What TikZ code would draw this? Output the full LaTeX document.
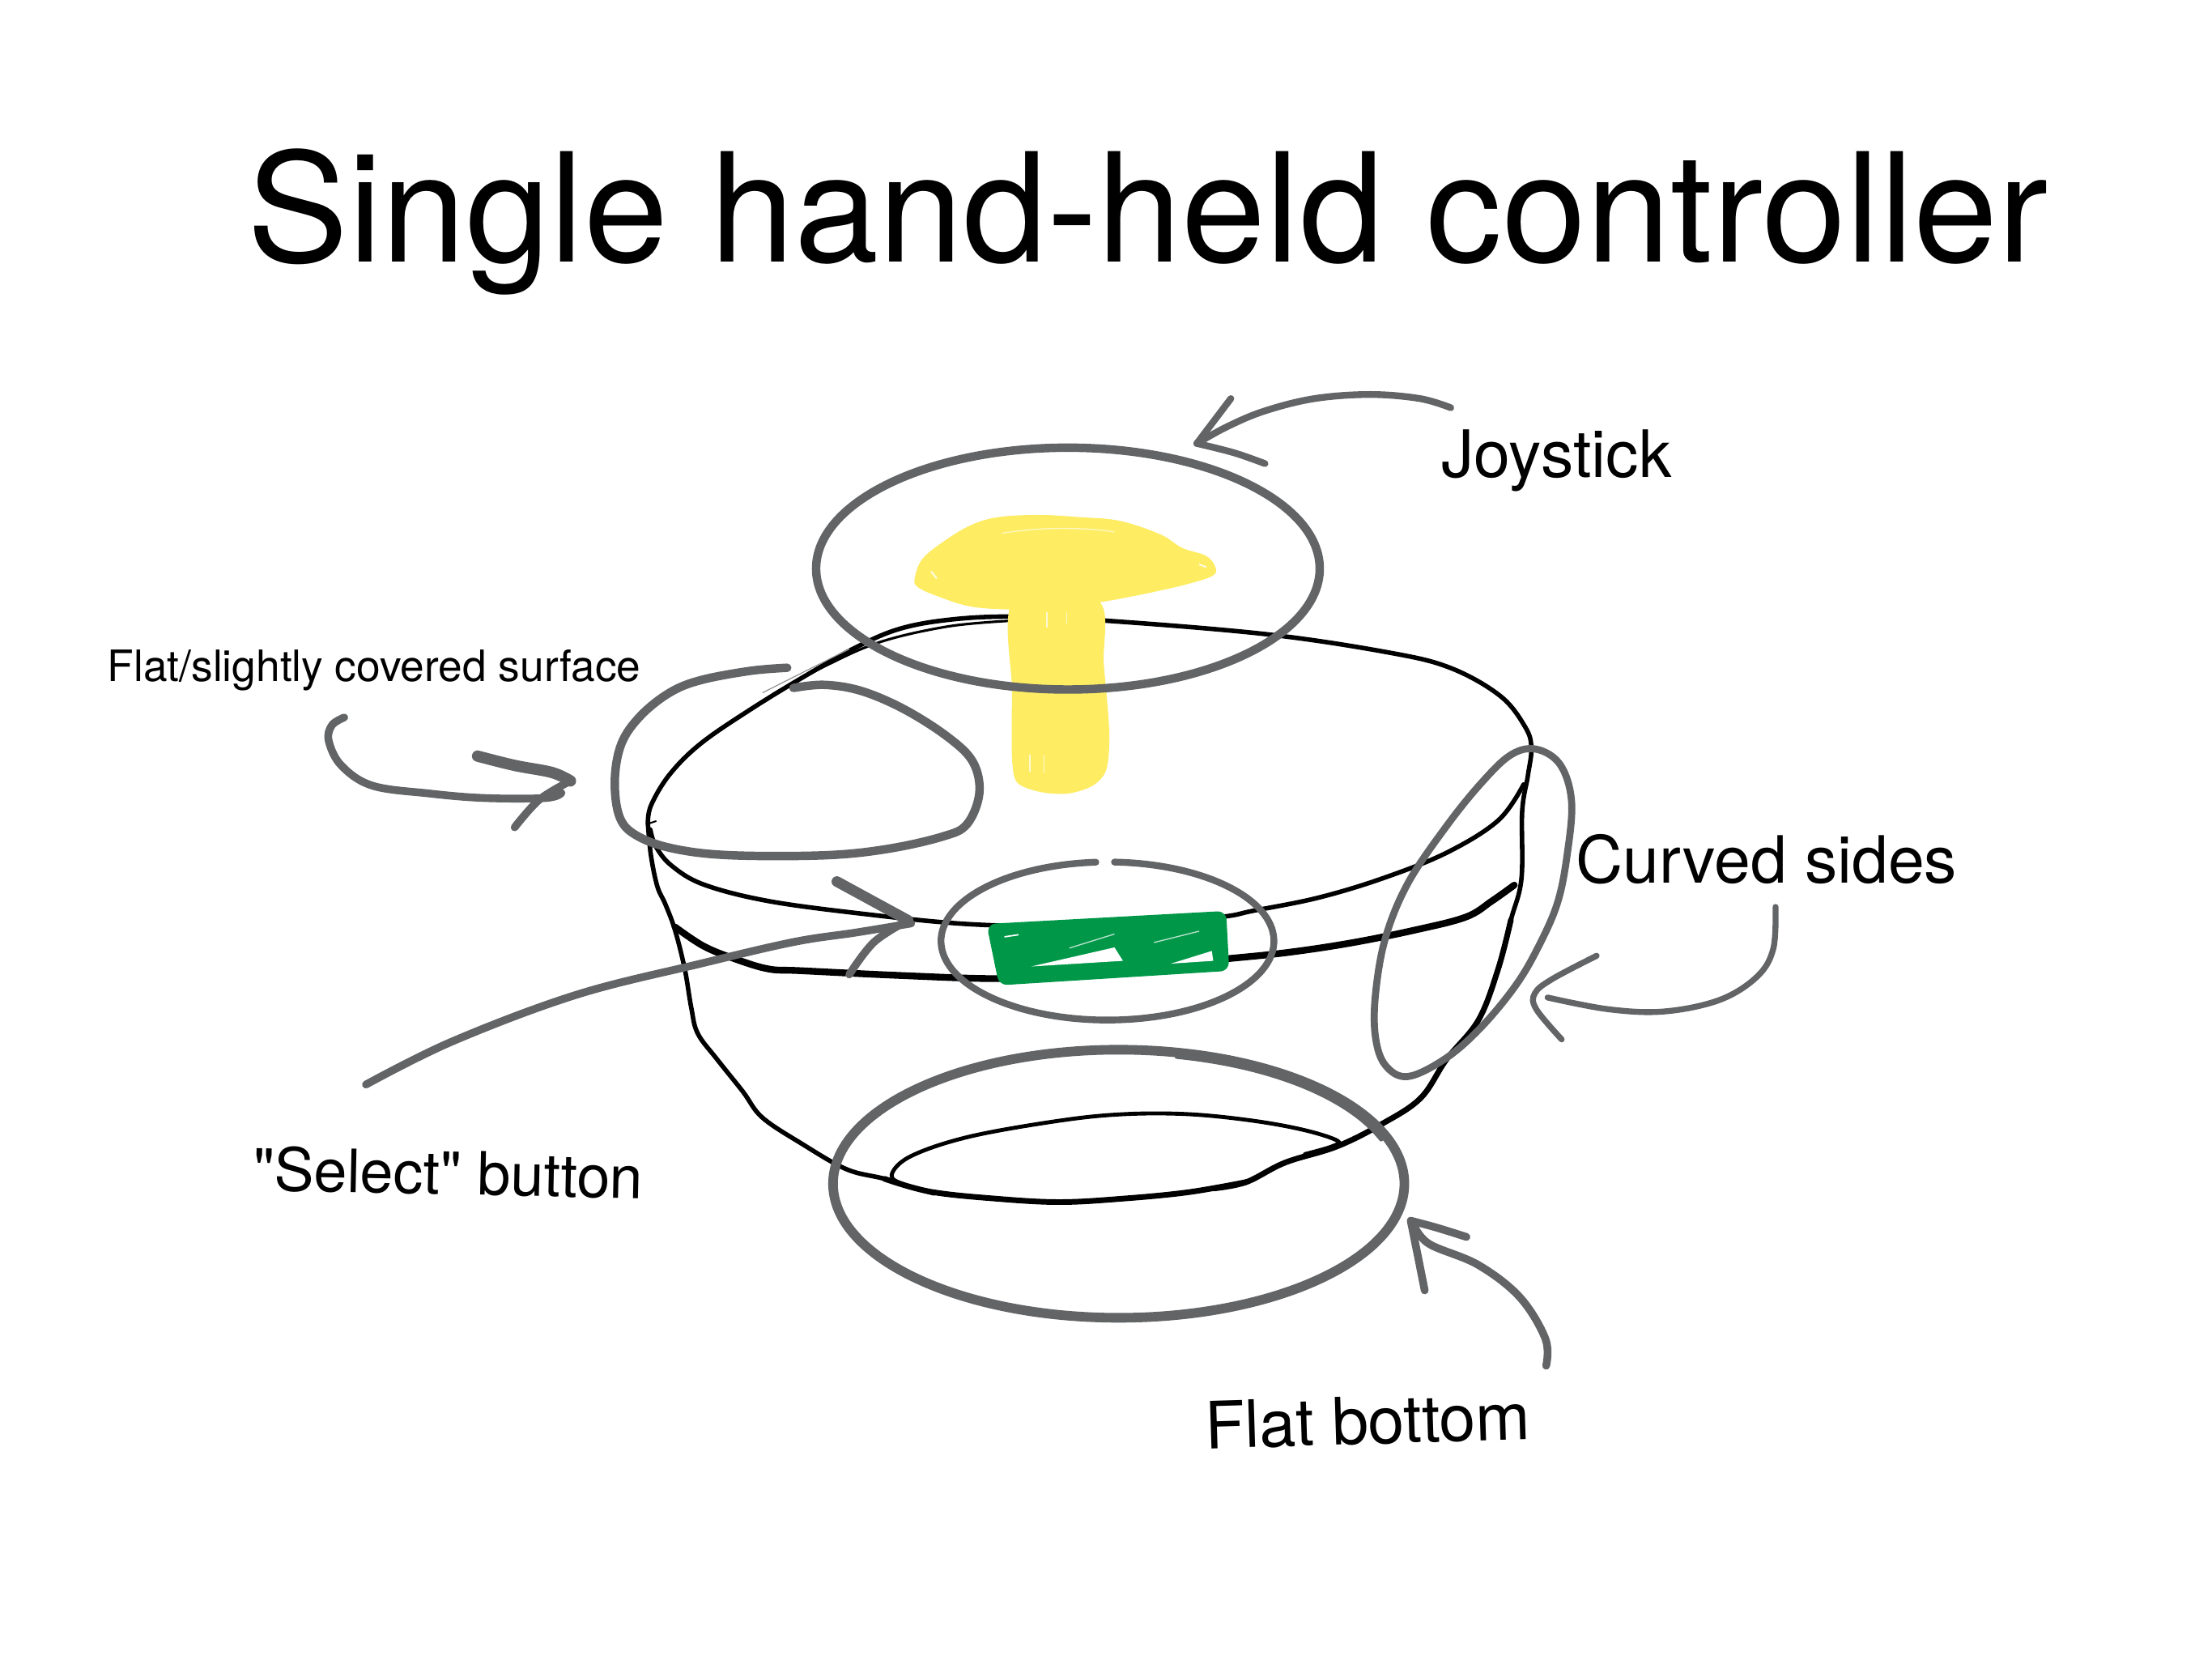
\documentclass[tikz,border=0pt]{standalone}
\usepackage{fontspec}
\setmainfont{TeX Gyre Heros}
\definecolor{pengray}{RGB}{98,100,102}
\definecolor{joyyellow}{RGB}{254,236,98}
\definecolor{btngreen}{RGB}{0,152,72}
\tikzset{
  ink/.style={draw=black, line width=3.2pt, line cap=round, line join=round},
  penline/.style={draw=pengray, line width=5.5pt, line cap=round, line join=round},
  lbl/.style={inner sep=0pt, anchor=base west, text=black},
}
\begin{document}
\begin{tikzpicture}[x=1pt,y=-1pt]
\useasboundingbox (0,0) rectangle (1568,1176);
\fill[white] (0,0) rectangle (1568,1176);

% ---------------- bowl (black ink) ----------------
% back rim + right side
\draw[ink] plot[smooth, tension=0.6] coordinates {
 (459.3,584.2) (461.4,571) (474.6,549) (496.6,527.1) (531.7,503) (571.2,478.8)
 (606.4,459) (637,445.9) (672.3,439.3) (716.2,437) (778,439.5) (896.7,449.4)
 (984.5,462.5) (1028.4,473.5) (1063.5,493.3) (1081.1,515.2) (1085.5,530)
 (1083,550) (1079,575) (1078.5,622.7) (1071,652) (1062,686.7) (1048,723)
 (1025.4,750.8) (1007,778.3) (979.6,796.6) (947.6,812.6) (911,824) (883.5,837.8) (860.6,842.3)};
\draw[ink, line width=4pt] plot[smooth, tension=0.6] coordinates {
 (1071,652) (1062,686.7) (1048,723) (1025.4,750.8) (1007,778.3) (979.6,796.6)
 (947.6,812.6) (911,824) (883.5,837.8) (860.6,842.3)};
% second thin stroke of the back rim
\draw[ink, line width=1.8pt] plot[smooth, tension=0.6] coordinates {
 (716,440) (672,444) (624,455) (585,472) (548,492)};
% left side and bottom
\draw[ink] plot[smooth, tension=0.6] coordinates {
 (459.3,584.2) (461.4,606.2) (465.9,628.1) (471.7,641) (478.5,659.3) (485.4,686.8)
 (490,714.2) (494.6,732.5) (508.3,750.8) (526.6,773.7) (540.3,792) (567.8,810.3)
 (599.8,828.6) (627,835.5) (659.3,844.6) (705,849.5) (751,852) (796.6,849.5)
 (842.4,845) (883.5,837.8)};
\draw[ink, line width=4pt] plot[smooth, tension=0.6] coordinates {
 (627,835.5) (659.3,844.6) (705,849.5) (751,852) (796.6,849.5) (842.4,845) (883.5,837.8)};
% front rim (upper edge of band)
\draw[ink] plot[smooth, tension=0.6] coordinates {
 (1080,556) (1062,581.5) (1025.4,604.4) (979.6,622.7) (933.9,636.4) (888,645.6)
 (865,650) (796.6,657) (751,657) (682,654.7) (613.5,647.9) (545,638.7) (499,627)
 (476,613.5) (464.8,599.8) (461,588)};
% lower edge of band
\draw[ink, line width=4.8pt] plot[smooth, tension=0.6] coordinates {
 (1073.4,627.3) (1057.4,638.7) (1039,650) (1002.5,659.3) (956.7,668.5) (911,675.3)
 (865,680) (796.6,686.8) (751,691.3) (705,693.6) (636.4,691.3) (567.8,688)
 (545,686.8) (522,680) (499,670.7) (478.5,657)};
% inner flat bottom
\draw[ink, line width=2.8pt] plot[smooth, tension=0.6] coordinates {
 (662,846) (642,840) (632,833) (645.6,819.5) (686.8,805.7) (751,794.3) (796.6,789.7)
 (842.4,789.7) (888,794.3) (924.7,801) (948,808.5) (944,812.6) (925,818)};
\draw[ink, line width=1.2pt] (459,584) -- (465,582);

% ---------------- select button (green) ----------------
\fill[btngreen, rounded corners=4pt] (702,657) -- (867,648) -- (869,686) -- (710,696) -- cycle;
\draw[btngreen, line width=4.5pt, line join=round, rounded corners=4pt]
  (702,657) -- (867,648) -- (869,686) -- (710,696) -- cycle;
\fill[white] (731,685) -- (790,671.5) -- (796,681) -- cycle;
\fill[white] (830,683) -- (859,674) -- (860,681) -- cycle;
\draw[white, line width=1pt] (712,664) -- (722,662.5);
\draw[white, line width=0.8pt, opacity=0.7] (758,672) -- (790,662);
\draw[white, line width=0.8pt, opacity=0.7] (818,668) -- (850,660);

% ---------------- joystick (yellow) ----------------
\fill[joyyellow] plot[smooth cycle, tension=0.6] coordinates {
 (648.5,409.4) (654,396) (670,383) (688.7,372) (707.8,366.5) (736.5,365)
 (765.2,366.5) (793.9,369.2) (822.6,378.8) (837.9,388.3) (855.1,394.1) (861.8,402.7)
 (859,408.4) (841.7,414) (822.6,418.5) (803.5,422.5) (778.6,427) (746,431)
 (718.3,432) (688.7,430) (665.7,423) (650.4,416)};
\fill[joyyellow] plot[smooth cycle, tension=0.5] coordinates {
 (718.3,426) (717.4,489.7) (717.4,537.5) (721.2,554.8) (738.4,561.5) (757.6,562.4)
 (774.8,556.7) (784.3,545.2) (786.3,518.4) (782.4,470.6) (778.6,426)};
\draw[white, line width=1.2pt, opacity=0.8] (660,405) -- (664,410);
\draw[white, line width=1.2pt, opacity=0.8] (850,400) -- (855,402);
\draw[white, line width=0.8pt, opacity=0.6] (710,378) .. controls (740,373) and (770,374) .. (790,377);
\draw[white, line width=0.8pt, opacity=0.7] (742,434) -- (742,445);
\draw[white, line width=0.8pt, opacity=0.7] (756,434) -- (756,442);
\draw[white, line width=0.8pt, opacity=0.7] (730,535) -- (730,547);
\draw[white, line width=0.8pt, opacity=0.7] (740,535) -- (740,548);

% ---------------- grey annotation pen ----------------
% joystick circle
\draw[penline, line width=6pt] (757,403) ellipse [x radius=178.5pt, y radius=85.7pt];
% joystick arrow
\draw[penline, line width=4.8pt] plot[smooth, tension=0.6] coordinates {
 (1028.4,289) (1006.5,282.5) (971.3,279.6) (931.8,282.5) (896.7,291.2) (870.3,302.2) (848.4,314.3)};
\draw[penline, line width=4.8pt] (872.5,282.5) -- (848.4,314.3);
\draw[penline, line width=4.8pt] plot[smooth, tension=0.6] coordinates {
 (848.4,314.3) (874.7,320.9) (896.7,328.6)};

% flat surface loop
\draw[penline, line width=6pt] plot[smooth, tension=0.6] coordinates {
 (558,473.3) (531.7,475.5) (496.6,482.1) (474.6,491) (454,507.4) (440.5,527.1)
 (435.8,553.5) (439.5,579.8) (452.7,593) (479,601.8) (518.6,606.2) (584.4,606.2)
 (628.4,601.8) (667.9,593) (685.4,584.2) (694.2,562.3) (689.8,540.3) (672.3,522.7)
 (641.5,503) (610.8,489.8) (584.4,485.4) (562.4,487.6)};
\draw[pengray!70, line width=0.7pt] (602,460) -- (540.5,491);
% flat surface arrow
\draw[penline] plot[smooth, tension=0.6] coordinates {
 (244,508.5) (235.3,514) (233,525) (241.9,542.5) (263.8,556.8) (303.4,562.3)
 (343,565.6) (386.8,565.6) (398,562)};
\draw[penline, line width=8pt] plot[smooth, tension=0.6] coordinates {
 (338.5,535.9) (364.8,542.5) (391.2,547.5) (404.4,553.5)};
\draw[penline, line width=5.5pt] plot[smooth, tension=0.6] coordinates {
 (404.4,553.5) (382.4,566.7) (364.8,586.4)};

% select ellipse (small gap on top)
\draw[penline, line width=4.8pt] (776.8,611.1) arc[start angle=94, end angle=447.6, x radius=118pt, y radius=56pt];
% select arrow
\draw[penline] plot[smooth, tension=0.6] coordinates {
 (259.4,768.7) (320.9,738) (408.8,705) (496.6,683) (562.4,667.7) (606.4,661) (645.9,654.5)};
\draw[penline, line width=7.5pt] (593.2,624.8) -- (643.7,652.3);
\draw[penline] plot[smooth, tension=0.6] coordinates {
 (643.7,652.3) (619.6,667.7) (602,690.7)};

% curved sides ellipse
\draw[penline, line width=5pt] plot[smooth cycle, tension=0.6] coordinates {
 (1089,531) (1106,542) (1114,568) (1111,605) (1104,640) (1090,672) (1074,699)
 (1050,728) (1025,750) (998,763) (982,755) (975,735) (975,705) (982,665)
 (998,626) (1025,586) (1050,555) (1071,535)};
% curved sides arrow
\draw[penline, line width=4.2pt] plot[smooth, tension=0.6] coordinates {
 (1258.6,642.8) (1257,672.4) (1245.5,692.2) (1219,708.7) (1179.6,716.9) (1140,715.3) (1097,707)};
\draw[penline, line width=4.2pt] plot[smooth, tension=0.6] coordinates {
 (1131.8,677.4) (1100.5,693.8) (1088,704) (1089,715.3) (1107,736.7)};

% flat bottom ellipse
\draw[penline, line width=6.8pt] (793,839) ellipse [x radius=202.5pt, y radius=95pt];
\draw[penline, line width=3pt] (793,839) ++(20:198pt and 92pt) arc[start angle=20, end angle=78, x radius=198pt, y radius=92pt];
% flat bottom arrow
\draw[penline] plot[smooth, tension=0.6] coordinates {
 (1096,968) (1095.5,949) (1077.4,919.5) (1047.8,896.5) (1013,881.6) (1002,868)};
\draw[penline] plot[smooth, tension=0.6] coordinates {
 (1039.5,876.7) (1018,870) (1000,865.2)};
\draw[penline] plot[smooth, tension=0.6] coordinates {
 (1000,865.2) (1005,890) (1009.9,914.6)};

% ---------------- texts ----------------
\node[lbl, font=\fontsize{107.4}{120}\selectfont] (title) at (175,185.6) {Single hand-held controller};
\node[lbl, font=\fontsize{46.3}{52}\selectfont] (joylabel) at (1021.5,338.5) {Joystick};
\node[lbl, font=\fontsize{30.6}{36}\selectfont] (surflabel) at (76,483.2) {Flat/slightly covered surface};
\node[lbl, font=\fontsize{46.2}{52}\selectfont] (sidelabel) at (1117,625.6) {Curved sides};
\node[lbl, font=\fontsize{42.3}{48}\selectfont, rotate=-1.2] (selectlabel) at (179,843.7) {\textquotedbl Select\textquotedbl{} button};
\node[lbl, font=\fontsize{46.3}{52}\selectfont, rotate=1.75] (bottomlabel) at (854.5,1027) {Flat bottom};
\end{tikzpicture}
\end{document}
